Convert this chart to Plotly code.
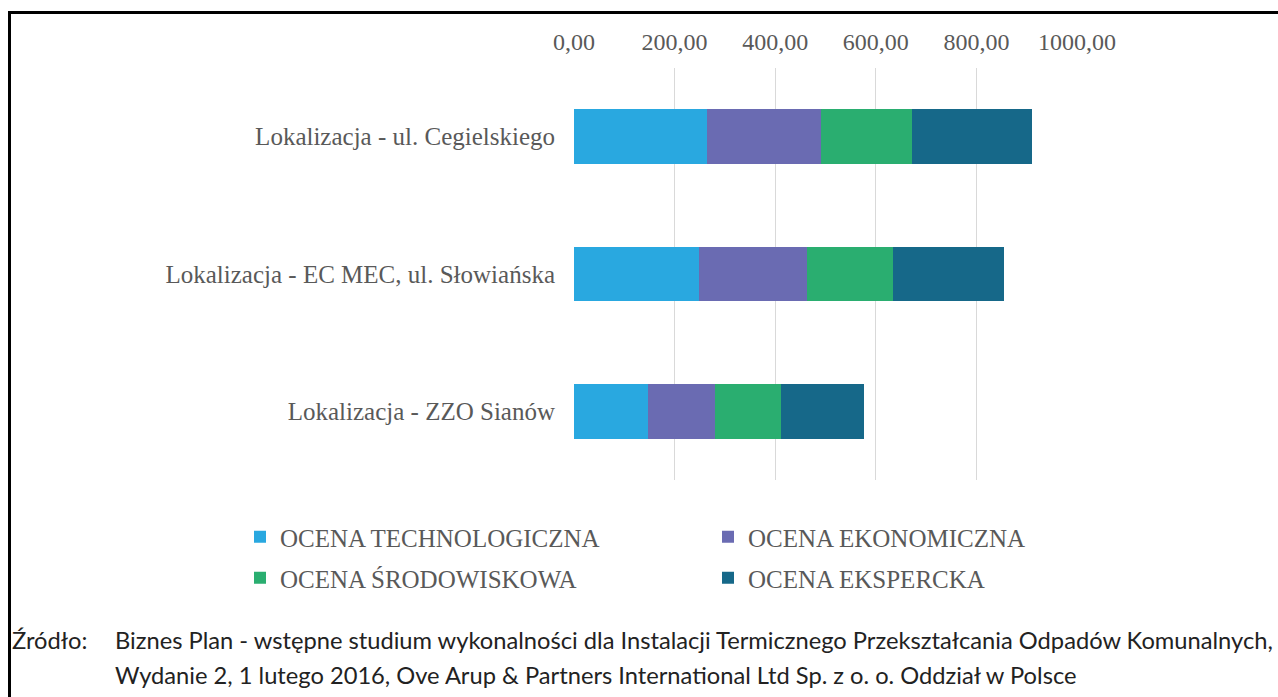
import plotly.graph_objects as go

categories = [
    "Lokalizacja - ul. Cegielskiego",
    "Lokalizacja - EC MEC, ul. Słowiańska",
    "Lokalizacja - ZZO Sianów",
]
series_names = [
    "OCENA TECHNOLOGICZNA",
    "OCENA EKONOMICZNA",
    "OCENA ŚRODOWISKOWA",
    "OCENA EKSPERCKA",
]
ocena_technologiczna = [264, 248, 148]
ocena_ekonomiczna = [228, 216, 133]
ocena_srodowiskowa = [180, 171, 130]
ocena_ekspercka = [238, 219, 166]
tick_values = [0, 200, 400, 600, 800, 1000]
source_label = "Źródło:"
source_lines = [
    "Biznes Plan - wstępne studium wykonalności dla Instalacji Termicznego Przekształcania Odpadów Komunalnych,",
    "Wydanie 2, 1 lutego 2016, Ove Arup & Partners International Ltd Sp. z o. o. Oddział w Polsce",
]

colors = ["#29A8E0", "#6A6BB2", "#2AAE70", "#166889"]
values = [ocena_technologiczna, ocena_ekonomiczna, ocena_srodowiskowa, ocena_ekspercka]
legend_ids = ["legend", "legend2", "legend3", "legend4"]
# legend text start (px) and row centre (px)
legend_pos = [(280, 537), (748, 537), (280, 578), (748, 578)]

W, H = 1278, 697
ML, MR, MT, MB = 574, 201, 68, 217
PW = W - ML - MR
PH = H - MT - MB


def xp(px):
    return (px - ML) / PW


def yp(py):
    return (H - MB - py) / PH


fig = go.Figure()
for name, vals, col, lg in zip(series_names, values, colors, legend_ids):
    fig.add_trace(go.Bar(
        y=categories, x=vals, name=name, orientation="h",
        marker=dict(color=col, line=dict(width=0)),
        legend=lg, showlegend=True,
    ))

legend_layout = {}
for lg, (tx, ty) in zip(legend_ids, legend_pos):
    legend_layout[lg] = dict(
        orientation="h", xref="container", yref="container",
        x=(tx - 40) / W, xanchor="left", y=1 - ty / H, yanchor="middle",
        font=dict(family="Liberation Serif", size=25, color="#595959"),
        bgcolor="rgba(0,0,0,0)", borderwidth=0, visible=True,
    )

fig.update_layout(
    width=W, height=H,
    showlegend=True,
    barmode="stack", bargap=0.6,
    plot_bgcolor="white", paper_bgcolor="white",
    margin=dict(l=ML, r=MR, t=MT, b=MB, autoexpand=False),
    font=dict(family="Liberation Serif", size=24, color="#595959"),
    separators=", ",
    xaxis=dict(
        side="top", range=[0, 1000], tickvals=tick_values, tickformat=".2f",
        showgrid=True, gridcolor="#D9D9D9", gridwidth=1,
        zeroline=False, showline=False, ticks="", ticklabelstandoff=12,
        tickfont=dict(size=24),
    ),
    yaxis=dict(
        categoryorder="array", categoryarray=categories, autorange="reversed",
        showgrid=False, zeroline=False, showline=False, ticks="",
        ticklabelstandoff=18, tickfont=dict(size=25),
    ),
    shapes=[
        dict(type="line", xref="paper", yref="paper", x0=xp(8), x1=xp(1280),
             y0=yp(12.5), y1=yp(12.5), line=dict(color="black", width=3)),
        dict(type="line", xref="paper", yref="paper", x0=xp(9.5), x1=xp(9.5),
             y0=yp(11), y1=yp(700), line=dict(color="black", width=3)),
    ],
    annotations=[
        dict(text=source_label, xref="paper", yref="paper", x=xp(10), y=yp(640),
             xanchor="left", yanchor="middle", showarrow=False,
             font=dict(family="Lato", size=23.7, color="#222222")),
        dict(text=source_lines[0], xref="paper", yref="paper", x=xp(113), y=yp(640),
             xanchor="left", yanchor="middle", showarrow=False,
             font=dict(family="Lato", size=23.7, color="#222222")),
        dict(text=source_lines[1], xref="paper", yref="paper", x=xp(113), y=yp(675),
             xanchor="left", yanchor="middle", showarrow=False,
             font=dict(family="Lato", size=23.7, color="#222222")),
    ],
)
fig.update_layout(legend_layout)

fig.write_html(
    "out.html",
    config={"displayModeBar": False},
    post_script="document.body.style.margin='0';document.body.style.padding='0';",
)
